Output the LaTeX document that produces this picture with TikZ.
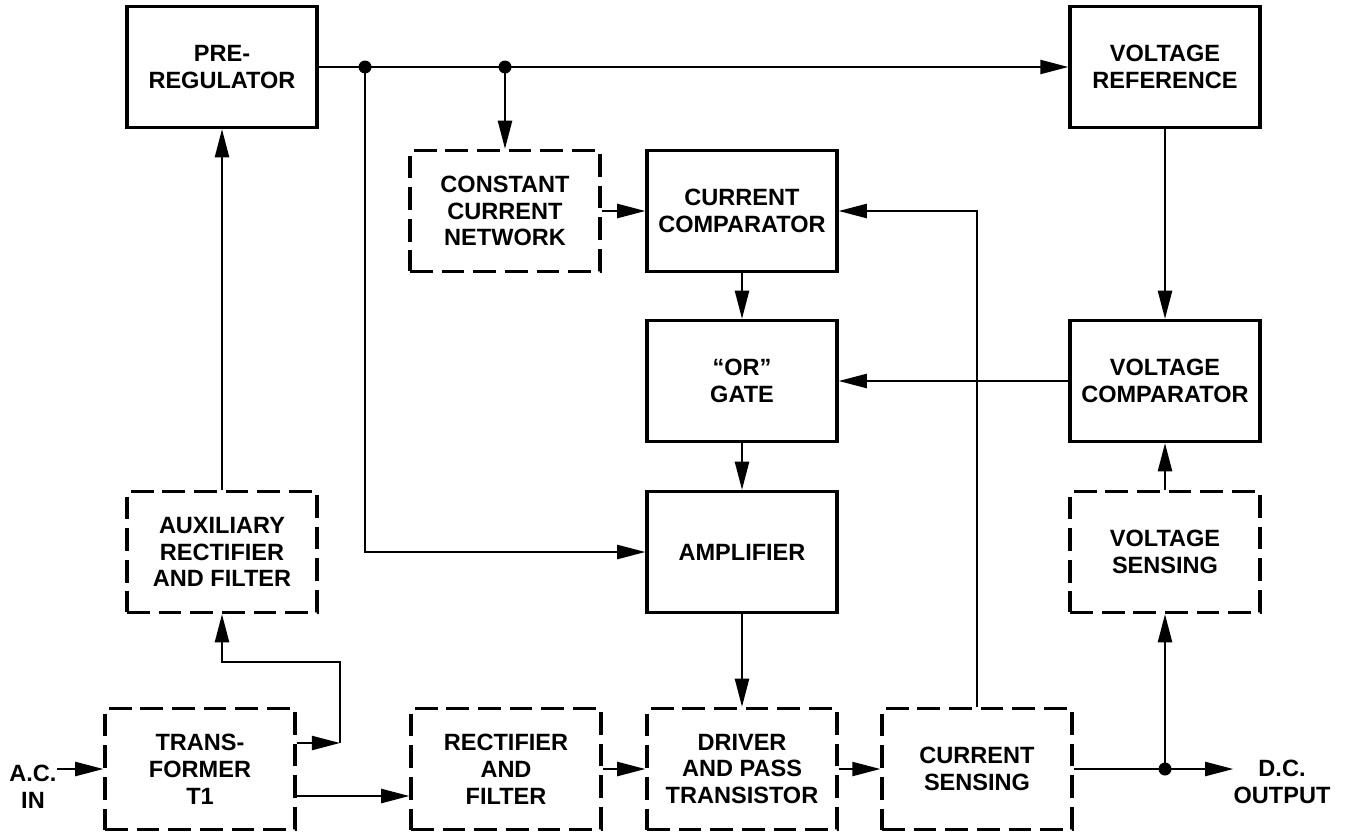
\documentclass[tikz,border=0pt]{standalone}
\usepackage{fontspec}
\setmainfont{Liberation Sans}
\usetikzlibrary{arrows.meta}

\begin{document}
\begin{tikzpicture}[x=0.02cm, y=-0.02cm,
    font=\fontsize{13.4}{15.3}\selectfont\bfseries,
    block/.style={draw, line width=1.9pt, minimum width=3.8cm,
        minimum height=2.42cm, align=center, inner sep=0pt},
    dblock/.style={block, dash pattern=on 13pt off 5pt},
    wire/.style={line width=1.2pt},
    arr/.style={wire, -{Triangle[length=16pt, width=8pt]}},
    dot/.style={circle, fill, inner sep=0pt, minimum size=0.26cm}]
    \useasboundingbox (0,0) rectangle (1345,832);

    % Top row
    \node[block] (prereg) at (222,67) {PRE-\\REGULATOR};
    \node[block] (vref) at (1165,67) {VOLTAGE\\REFERENCE};

    % Comparators and gate
    \node[dblock] (ccn) at (505,211) {CONSTANT\\CURRENT\\NETWORK};
    \node[block] (ccomp) at (742,211) {CURRENT\\COMPARATOR};
    \node[block] (orgate) at (742,381) {“OR”\\GATE};
    \node[block] (vcomp) at (1165,381) {VOLTAGE\\COMPARATOR};

    % Middle row
    \node[dblock] (aux) at (222,552) {AUXILIARY\\RECTIFIER\\AND FILTER};
    \node[block] (amp) at (742,552) {AMPLIFIER};
    \node[dblock] (vsense) at (1165,552) {VOLTAGE\\SENSING};

    % Power path
    \node[dblock] (trans) at (200,769) {TRANS-\\FORMER\\T1};
    \node[dblock] (rect) at (506,769) {RECTIFIER\\AND\\FILTER};
    \node[dblock] (driver) at (742,769) {DRIVER\\AND PASS\\TRANSISTOR};
    \node[dblock] (csense) at (977,769) {CURRENT\\SENSING};

    % In and out
    \node[align=center, inner sep=0pt] (acin) at (33,787) {A.C.\\IN};
    \node[align=center, inner sep=0pt] (dcout) at (1282,782) {D.C.\\OUTPUT};

    % Junctions
    \node[dot] (j1) at (365,67) {};
    \node[dot] (j2) at (505,67) {};
    \node[dot] (j3) at (1165,769) {};
    \coordinate (tap) at (340,743);
    \coordinate (tlow) at (293,796);

    % Reference and control lines
    \draw[arr] (prereg.east) -- (vref.west);
    \draw[arr] (j2.center) -- (ccn.north);
    \draw[arr] (j1.center) |- (amp.west);
    \draw[arr] (ccn) -- (ccomp);
    \draw[arr] (csense.north) |- (ccomp.east);
    \draw[arr] (ccomp) -- (orgate);
    \draw[arr] (vcomp) -- (orgate);
    \draw[arr] (vref) -- (vcomp);
    \draw[arr] (orgate) -- (amp);
    \draw[arr] (amp) -- (driver);
    \draw[arr] (vsense) -- (vcomp);
    \draw[arr] (aux) -- (prereg);

    % Transformer outputs
    \draw[arr] (trans.east |- tap) -- (tap);
    \draw[arr] (tap) -- ++(0,-81) -| (aux.south);
    \draw[arr] (tlow) -- (tlow -| rect.west);
    \draw[arr] (acin.east |- trans.west) -- (trans.west);

    % Main current path
    \draw[arr] (rect) -- (driver);
    \draw[arr] (driver) -- (csense);
    \draw[wire] (csense.east) -- (j3.center);
    \draw[arr] (j3.center) -- (j3 -| dcout.west);
    \draw[arr] (j3.center) -- (vsense.south);
\end{tikzpicture}
\end{document}
